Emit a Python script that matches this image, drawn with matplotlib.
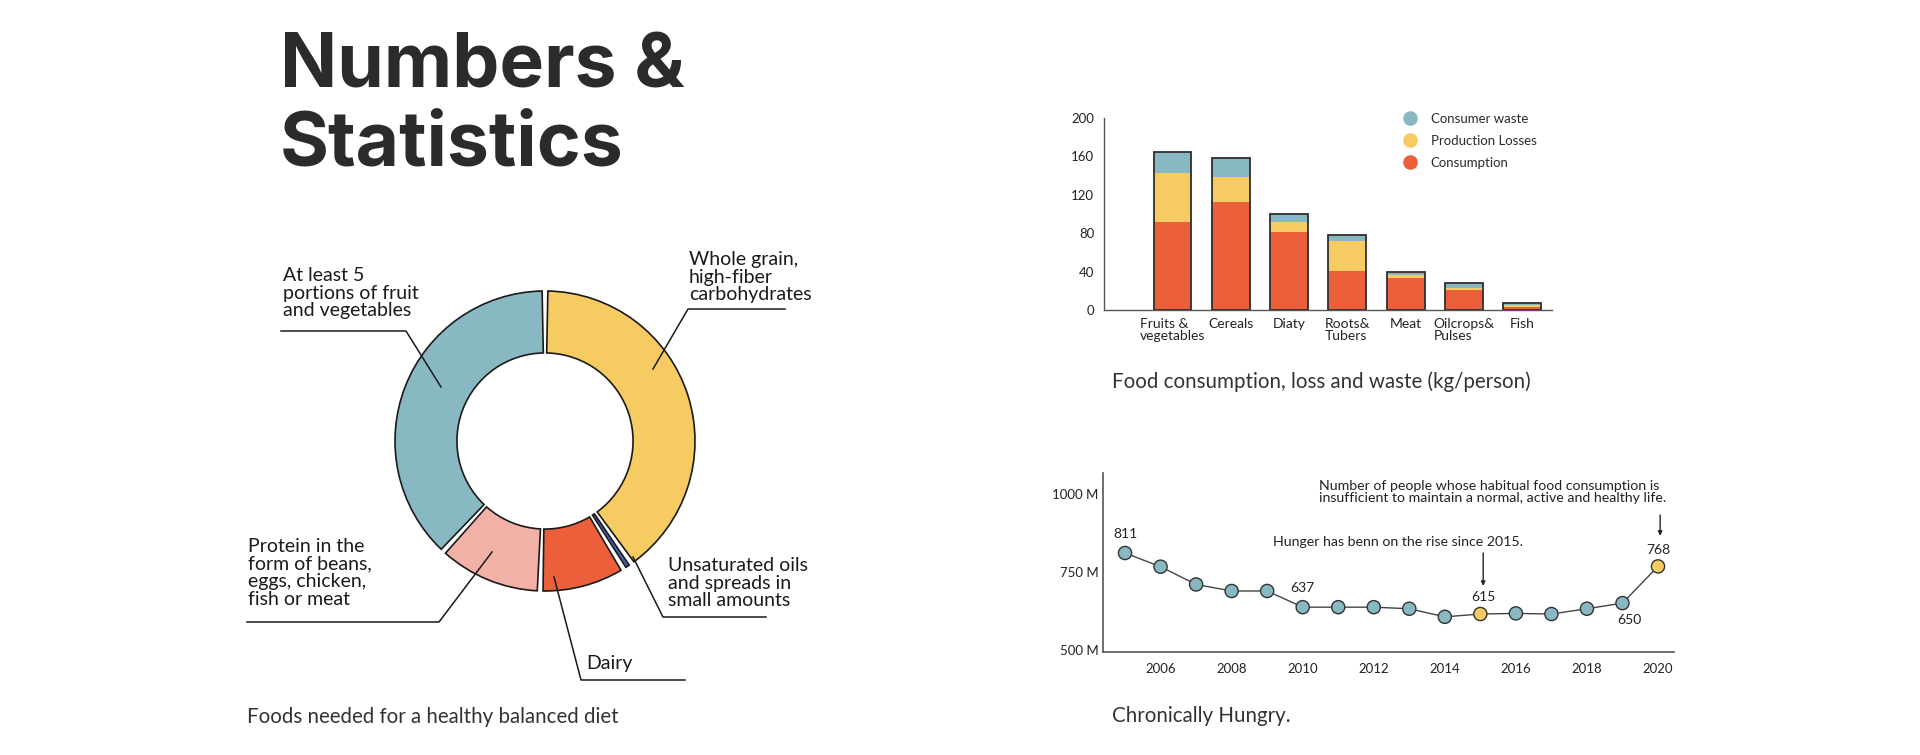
import matplotlib.pyplot as plt
from matplotlib.lines import Line2D
import numpy as np

W, H = 1920, 755

# palette
c_blue = "#88B9C3"
c_yellow = "#F6CB62"
c_pink = "#F2B1A6"
c_red = "#EB603A"
c_oil = "#4A64B5"
c_ink = "#2b2b2b"

# donut: foods needed for a healthy balanced diet (share, %)
diet_labels = [
    "At least 5\nportions of fruit\nand vegetables",
    "Protein in the\nform of beans,\neggs, chicken,\nfish or meat",
    "Dairy",
    "Unsaturated oils\nand spreads in\nsmall amounts",
    "Whole grain,\nhigh-fiber\ncarbohydrates",
]
diet_shares = [37, 11, 9, 1, 39]
diet_colors = [c_blue, c_pink, c_red, c_oil, c_yellow]

# stacked bars: food consumption, loss and waste (kg/person)
food_groups = ["Fruits &\nvegetables", "Cereals", "Diaty", "Roots&\nTubers",
               "Meat", "Oilcrops&\nPulses", "Fish"]
consumption = [92, 112, 81, 41, 33, 21, 3.5]
production_losses = [51, 27, 11, 31, 3, 1.5, 1.5]
consumer_waste = [22, 19, 8, 6, 4, 5.5, 2]

# line: chronically hungry people (millions)
years = list(range(2005, 2021))
hungry = [811, 767, 710, 689, 689, 637, 637, 637, 632, 606, 615, 617, 615, 632, 650, 768]
highlight_years = [2015, 2020]
# value labels: year -> offset in points
value_labels = {2005: (0, 14), 2010: (0, 14), 2015: (2, 12), 2019: (5, -12), 2020: (0, 12)}

plt.rcParams["font.family"] = ["Lato", "DejaVu Sans"]
plt.rcParams["text.color"] = c_ink

fig = plt.figure(figsize=(W / 100, H / 100), dpi=100)
fig.patch.set_facecolor("white")


def px_box(x0, y0, x1, y1):
    "axes rect from pixel corners (top-left origin)"
    return [x0 / W, 1 - y1 / H, (x1 - x0) / W, (y1 - y0) / H]


# ---- title
fig.text(280 / W, 1 - 88 / H, "Numbers &", fontsize=54, fontweight="bold",
         family=["Inter", "DejaVu Sans"], color=c_ink, va="baseline")
fig.text(280 / W, 1 - 165 / H, "Statistics", fontsize=54, fontweight="bold",
         family=["Inter", "DejaVu Sans"], color=c_ink, va="baseline")

# ---- donut
cx, cy, R = 545, 441, 150
ax_pie = fig.add_axes(px_box(230, 240, 860, 700))
wedges, _ = ax_pie.pie(diet_shares, colors=diet_colors, startangle=90,
                       radius=1, wedgeprops=dict(width=0.413, edgecolor="#1a1a1a", linewidth=1.2))
for w in wedges:
    # open a small gap between neighbouring segments
    w.set_theta1(w.theta1 + 1.1)
    w.set_theta2(w.theta2 - 1.1)
ax_pie.set_xlim((230 - cx) / R, (860 - cx) / R)
ax_pie.set_ylim((cy - 700) / R, (cy - 240) / R)
ax_pie.set_aspect("equal")
ax_pie.axis("off")


def dpt(px, py):
    return (px - cx) / R, (cy - py) / R


# text anchor (left, middle) and leader polyline, in pixels
label_layout = [
    ((283, 293), [(281, 331), (406, 331), (441, 387)]),
    ((248, 573), [(247, 622), (439, 622), (492, 552)]),
    ((586, 663), [(685, 680), (581, 680), (554, 577)]),
    ((668, 583), [(766, 617), (663, 617), (633, 557)]),
    ((689, 277), [(785, 309), (688, 309), (653, 369)]),
]
for lab, (anchor, path) in zip(diet_labels, label_layout):
    tx, ty = dpt(*anchor)
    ax_pie.text(tx, ty, lab, ha="left", va="center", fontsize=14, linespacing=1.03,
                color="#1a1a1a", clip_on=False)
    xs, ys = zip(*[dpt(*p) for p in path])
    ax_pie.plot(xs, ys, color="#1a1a1a", lw=1.1, clip_on=False)

caption_kw = dict(fontsize=14.8, va="center", color="#333333")
fig.text(247 / W, 1 - 717 / H, "Foods needed for a healthy balanced diet", **caption_kw)

# ---- stacked bars
ax_bar = fig.add_axes(px_box(1104, 118, 1552, 310))
x = np.arange(len(food_groups))
cons = np.array(consumption)
loss = np.array(production_losses)
waste = np.array(consumer_waste)
bw = 0.65
ax_bar.bar(x, cons, width=bw, color=c_red, label="Consumption")
ax_bar.bar(x, loss, width=bw, bottom=cons, color=c_yellow, label="Production Losses")
ax_bar.bar(x, waste, width=bw, bottom=cons + loss, color=c_blue, label="Consumer waste")
ax_bar.bar(x, cons + loss + waste, width=bw, fill=False, edgecolor="#2e2e2e", linewidth=1.3)
ax_bar.set_xlim(-1.175, 6.51)
ax_bar.set_ylim(0, 200)
ax_bar.set_yticks(np.arange(0, 201, 40))
ax_bar.set_xticks(x)
ax_bar.set_xticklabels(food_groups, linespacing=0.95)
for lab in ax_bar.get_xticklabels():
    lab.set_multialignment("left")
ax_bar.tick_params(axis="x", length=0, labelsize=10, colors="#222222", pad=6)
ax_bar.tick_params(axis="y", length=0, labelsize=9.5, colors="#222222", pad=7)
for s in ["top", "right"]:
    ax_bar.spines[s].set_visible(False)
for s in ["left", "bottom"]:
    ax_bar.spines[s].set_color("#555555")
    ax_bar.spines[s].set_linewidth(1)

legend_items = [("Consumer waste", c_blue), ("Production Losses", c_yellow), ("Consumption", c_red)]
handles = [Line2D([], [], ls="", marker="o", ms=9.5, mfc=c, mec=c) for _, c in legend_items]
ax_bar.legend(handles, [n for n, _ in legend_items], loc="upper left",
              bbox_to_anchor=(1403 / W, 1 - 113 / H), bbox_transform=fig.transFigure,
              frameon=False, fontsize=9.5, handlelength=1.0, handletextpad=1.1,
              labelspacing=0.75, borderpad=0, borderaxespad=0)

fig.text(1112 / W, 1 - 382 / H, "Food consumption, loss and waste (kg/person)", **caption_kw)

# ---- line chart
ax_line = fig.add_axes(px_box(1103, 473, 1674, 652))
ax_line.plot(years, hungry, color="#444444", lw=1, zorder=1)
pt_colors = [c_yellow if yr in highlight_years else c_blue for yr in years]
ax_line.scatter(years, hungry, s=90, c=pt_colors, edgecolors="#333333", linewidths=1, zorder=2)
for yr, (dx, dy) in value_labels.items():
    v = hungry[years.index(yr)]
    ax_line.annotate(str(v), (yr, v), xytext=(dx, dy), textcoords="offset points",
                     ha="center", va="center", fontsize=10, color="#222222")

ax_line.set_xlim(2004.38, 2020.45)
ax_line.set_ylim(493, 1068)
ax_line.set_xticks(range(2006, 2021, 2))
ax_line.set_yticks([500, 750, 1000])
ax_line.set_yticklabels(["500 M", "750 M", "1000 M"])
ax_line.tick_params(axis="both", length=0, labelsize=9.5, colors="#222222")
ax_line.tick_params(axis="x", pad=8)
ax_line.tick_params(axis="y", pad=3)
for s in ["top", "right"]:
    ax_line.spines[s].set_visible(False)
for s in ["left", "bottom"]:
    ax_line.spines[s].set_color("#555555")
    ax_line.spines[s].set_linewidth(1.2)

arrow_kw = dict(arrowstyle="-|>,head_length=0.25,head_width=0.12", color="#222222", lw=1,
                shrinkA=0, shrinkB=0)
ax_line.text(2012.68, 846, "Hunger has benn on the rise since 2015.", ha="center",
             va="center", fontsize=10.2, color="#222222")
ax_line.annotate("", xy=(2015.08, 705), xytext=(2015.08, 811), arrowprops=arrow_kw)
ax_line.text(2010.45, 1006, "Number of people whose habitual food consumption is\n"
             "insufficient to maintain a normal, active and healthy life.",
             ha="left", va="center", fontsize=10.2, linespacing=1.0, color="#222222")
ax_line.annotate("", xy=(2020.06, 866), xytext=(2020.06, 933), arrowprops=arrow_kw)

fig.text(1112 / W, 1 - 716 / H, "Chronically Hungry.", **caption_kw)

fig.savefig("out.png", dpi=100, facecolor="white")
